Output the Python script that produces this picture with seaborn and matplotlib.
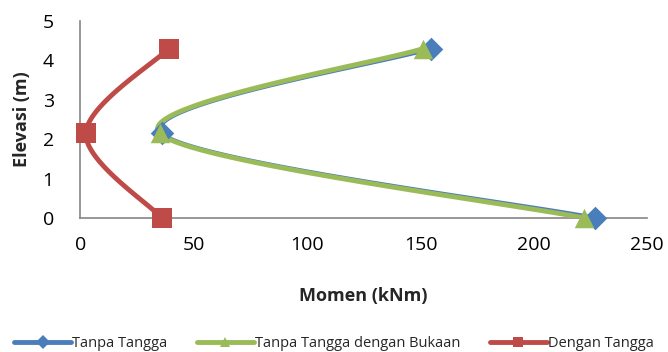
import numpy as np
import pandas as pd
import matplotlib
matplotlib.use("Agg")
import matplotlib.pyplot as plt
import seaborn as sns
from matplotlib.lines import Line2D

# Moment profiles along the elevation
elevasi = [0.0, 2.15, 4.3]
tanpa_tangga = [227.0, 36.0, 154.5]
tanpa_tangga_bukaan = [222.0, 35.0, 151.0]
dengan_tangga = [36.0, 2.5, 39.0]

series_names = ["Tanpa Tangga", "Tanpa Tangga dengan Bukaan", "Dengan Tangga"]
colors = ["#4A7EBB", "#9BBB59", "#BE4B48"]
markers = ["D", "^", "s"]
marker_sizes = [12, 14, 14]
line_widths = [3.0, 3.5, 3.5]


def smooth_curve(xs, ys, n=60):
    """Catmull-Rom style Bezier smoothing through the given points."""
    pts = np.column_stack([xs, ys]).astype(float)
    ext = np.vstack([pts[0], pts, pts[-1]])
    out = []
    for i in range(len(pts) - 1):
        p0, p1, p2, p3 = ext[i], ext[i + 1], ext[i + 2], ext[i + 3]
        c1 = p1 + (p2 - p0) / 6.0
        c2 = p2 - (p3 - p1) / 6.0
        t = np.linspace(0, 1, n)[:, None]
        seg = ((1 - t) ** 3) * p1 + 3 * ((1 - t) ** 2) * t * c1 + 3 * (1 - t) * t ** 2 * c2 + t ** 3 * p2
        out.append(seg if i == 0 else seg[1:])
    return np.vstack(out)


sns.set_style("white")
plt.rcParams["font.family"] = ["Open Sans", "DejaVu Sans"]

fig = plt.figure(figsize=(6.68, 3.52), dpi=100)
ax = fig.add_axes([0.12, 0.381, 0.849, 0.559])

handles = []
for name, vals, col, mk, ms, lw in zip(series_names,
                                       [tanpa_tangga, tanpa_tangga_bukaan, dengan_tangga],
                                       colors, markers, marker_sizes, line_widths):
    curve = smooth_curve(vals, elevasi)
    df = pd.DataFrame({"Momen": curve[:, 0], "Elevasi": curve[:, 1]})
    sns.lineplot(data=df, x="Momen", y="Elevasi", sort=False, estimator=None,
                 color=col, linewidth=lw, ax=ax, zorder=3)
    pts = pd.DataFrame({"Momen": vals, "Elevasi": elevasi})
    sns.scatterplot(data=pts, x="Momen", y="Elevasi", marker=mk, s=ms ** 2,
                    color=col, edgecolor=col, linewidth=0, ax=ax, zorder=4,
                    clip_on=False)
    handles.append(Line2D([], [], color=col, linewidth=3.5, marker=mk,
                          markersize=7, markeredgewidth=0))

ax.set_xlim(0, 250)
ax.set_ylim(0, 5)
ax.set_xticks([0, 50, 100, 150, 200, 250])
ax.set_yticks([0, 1, 2, 3, 4, 5])

for side in ["top", "right"]:
    ax.spines[side].set_visible(False)
for side in ["left", "bottom"]:
    ax.spines[side].set_color("#868686")
    ax.spines[side].set_linewidth(1.2)
    ax.spines[side].set_zorder(1)
ax.tick_params(axis="both", which="both", direction="out", length=5, width=1.2,
               color="#868686", labelsize=14, labelcolor="#000000")
ax.tick_params(axis="x", pad=8)
ax.tick_params(axis="y", pad=14)

ax.set_xlabel("Momen (kNm)", fontsize=13, fontweight="bold", labelpad=24)
ax.set_ylabel("Elevasi (m)", fontsize=13, fontweight="bold", labelpad=8)

fig.legend(handles, series_names, loc="lower center", bbox_to_anchor=(0.5, -0.035),
           ncol=3, frameon=False, fontsize=10.5, handlelength=3.9,
           handletextpad=0.1, columnspacing=2.0)

fig.savefig("out.png", dpi=100)
